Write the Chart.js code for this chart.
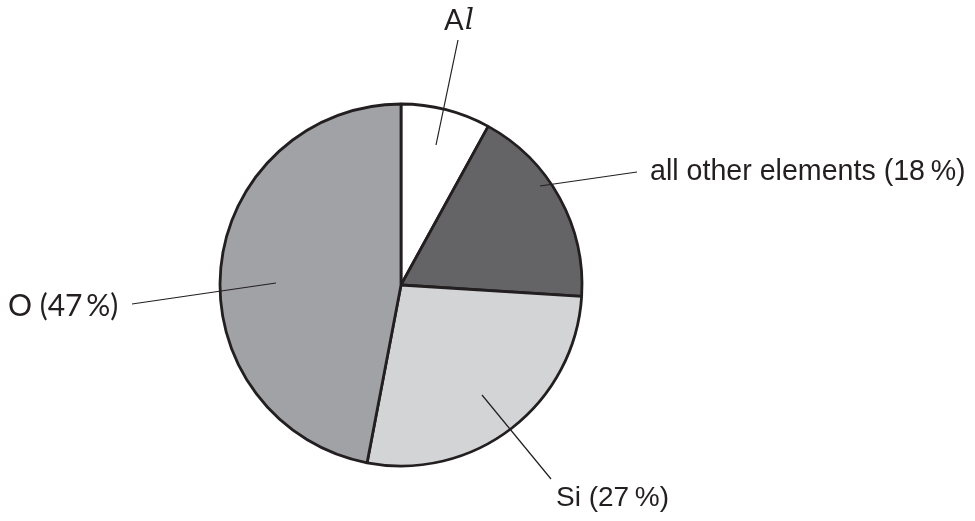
<!DOCTYPE html>
<html>
<head>
<meta charset="utf-8">
<script src="https://cdn.jsdelivr.net/npm/chart.js@4"></script>
<style>
html,body{margin:0;padding:0;background:#fff;}
#wrap{width:975px;height:521px;position:relative;}
</style>
</head>
<body>
<div id="wrap"><canvas id="c" width="975" height="521"></canvas></div>
<script>
const categories = ["Al", "all other elements", "Si", "O"];
const values = [8, 18, 27, 47];
const labelTexts = ["Al", "all other elements (18\u2009%)", "Si (27\u2009%)", "O (47\u2009%)"];
const sliceColors = ["#ffffff", "#646466", "#d3d4d6", "#a1a2a6"];

// leader-line layout (annotation geometry, px relative to canvas)
const leaders = [
  {inner:[436,145], outer:[458,40], text:[459,21], align:"center", font:"29px Lato, 'Liberation Sans', sans-serif"},
  {inner:[540,186], outer:[637,172], text:[650,172], align:"left", font:"28.6px 'Liberation Sans', Arial, sans-serif"},
  {inner:[482,395], outer:[551,479], text:[556,498], align:"left", font:"28px 'Liberation Sans', Arial, sans-serif"},
  {inner:[276,283], outer:[132,304], text:[8,306], align:"left", font:"30px Lato, 'Liberation Sans', sans-serif"}
];

const labelPlugin = {
  id: "leaderLabels",
  afterDatasetsDraw(chart) {
    const ctx = chart.ctx;
    ctx.save();
    ctx.strokeStyle = "#231f20";
    ctx.lineWidth = 1.2;
    ctx.fillStyle = "#231f20";
    ctx.textBaseline = "middle";
    leaders.forEach((l, i) => {
      ctx.beginPath();
      ctx.moveTo(l.inner[0], l.inner[1]);
      ctx.lineTo(l.outer[0], l.outer[1]);
      ctx.stroke();
      const t = labelTexts[i];
      if (i === 0) {
        const fA = l.font;
        const fl = "italic 29px 'DejaVu Serif', 'Liberation Serif', serif";
        ctx.font = fA;
        const wA = ctx.measureText(t[0]).width;
        ctx.font = fl;
        const wl = ctx.measureText(t[1]).width;
        const x = l.text[0] - (wA + wl + 1) / 2;
        ctx.textAlign = "left";
        ctx.font = fA;
        ctx.fillText(t[0], x, l.text[1]);
        ctx.font = fl;
        ctx.fillText(t[1], x + wA + 1, l.text[1]);
      } else {
        ctx.font = l.font;
        ctx.textAlign = l.align;
        ctx.fillText(t, l.text[0], l.text[1]);
      }
    });
    ctx.restore();
  }
};

new Chart(document.getElementById("c"), {
  type: "pie",
  data: {
    labels: categories,
    datasets: [{
      data: values,
      backgroundColor: sliceColors,
      borderColor: "#231f20",
      borderWidth: 2.8
    }]
  },
  options: {
    responsive: false,
    animation: false,
    radius: 181,
    layout: { padding: { left: 0, right: 173, top: 49, bottom: 0 } },
    plugins: { legend: { display: false }, tooltip: { enabled: false } }
  },
  plugins: [labelPlugin]
});
</script>
</body>
</html>
